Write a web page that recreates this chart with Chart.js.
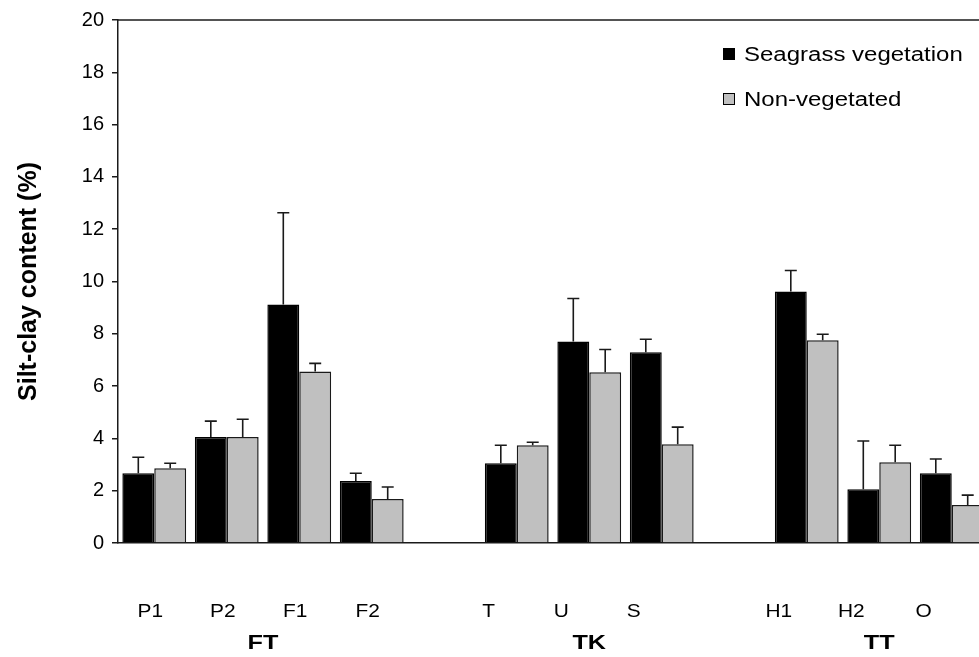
<!DOCTYPE html>
<html>
<head>
    <title>Silt-clay content</title>
    <script src="https://cdn.jsdelivr.net/npm/chart.js"></script>
    <style>
        body { margin: 0; overflow: hidden; background: #fff; }
        #siltChart { position: absolute; left: 0; top: 0; }
    </style>
</head>
<body>
    <canvas id="siltChart" width="988" height="657"></canvas>

    <script>
        // sites (empty strings are the gaps between regions)
        const sites = ['P1', 'P2', 'F1', 'F2', '', 'T', 'U', 'S', '', 'H1', 'H2', 'O'];
        const siteRegion = [0, 0, 0, 0, null, 1, 1, 1, null, 2, 2, 2];
        const regions = ['FT', 'TK', 'TT'];
        const regionCenters = [[1, 2], [6, 6], [10, 10]]; // site index pairs to centre region label on

        const seagrass = [2.67, 4.05, 9.12, 2.37, null, 3.05, 7.71, 7.29, null, 9.62, 2.06, 2.67];
        const seagrassErr = [0.61, 0.61, 3.51, 0.30, null, 0.69, 1.64, 0.50, null, 0.80, 1.84, 0.54];
        const bare = [2.86, 4.05, 6.56, 1.68, null, 3.74, 6.53, 3.78, null, 7.75, 3.09, 1.45];
        const bareErr = [0.19, 0.68, 0.31, 0.46, null, 0.11, 0.87, 0.65, null, 0.23, 0.65, 0.38];

        const yTicks = [0, 2, 4, 6, 8, 10, 12, 14, 16, 18, 20];

        const FONT = '"Liberation Sans", Arial, sans-serif';
        const STRETCH = 1.2; // text in the source looks a bit widened
        const labelShift = [-4, -28, -28]; // site names sit left of their bars in the source

        // upward error bars
        const errorBars = {
            id: 'errorBars',
            afterDatasetsDraw(chart) {
                const ctx = chart.ctx;
                const y = chart.scales.y;
                ctx.save();
                ctx.strokeStyle = '#1a1a1a';
                ctx.lineWidth = 1.6;
                chart.data.datasets.forEach((ds, i) => {
                    const meta = chart.getDatasetMeta(i);
                    meta.data.forEach((bar, j) => {
                        const v = ds.data[j];
                        const e = ds.errors[j];
                        if (v == null || e == null) return;
                        const top = y.getPixelForValue(v + e);
                        ctx.beginPath();
                        ctx.moveTo(bar.x, bar.y);
                        ctx.lineTo(bar.x, top);
                        ctx.moveTo(bar.x - 6, top);
                        ctx.lineTo(bar.x + 6, top);
                        ctx.stroke();
                    });
                });
                ctx.restore();
            }
        };

        // top frame line, legend box, site names and region labels
        const extras = {
            id: 'extras',
            afterDraw(chart) {
                const ctx = chart.ctx;
                const area = chart.chartArea;
                const x = chart.scales.x;
                ctx.save();
                ctx.strokeStyle = '#1a1a1a';
                ctx.lineWidth = 1.5;
                ctx.beginPath();
                ctx.moveTo(area.left, area.top);
                ctx.lineTo(area.right, area.top);
                ctx.stroke();

                // legend
                const items = [
                    { text: 'Seagrass vegetation', fill: '#000000', y: 54 },
                    { text: 'Non-vegetated', fill: '#c0c0c0', y: 99 }
                ];
                ctx.lineWidth = 1;
                items.forEach(it => {
                    ctx.fillStyle = it.fill;
                    ctx.fillRect(723, it.y - 6, 12, 12);
                    ctx.strokeStyle = '#000';
                    ctx.strokeRect(723.5, it.y - 5.5, 11, 11);
                    ctx.save();
                    ctx.translate(744, it.y);
                    ctx.scale(STRETCH, 1);
                    ctx.fillStyle = '#000';
                    ctx.font = '20px ' + FONT;
                    ctx.textBaseline = 'middle';
                    ctx.fillText(it.text, 0, 1);
                    ctx.restore();
                });

                // site names, taken from the category scale
                sites.forEach((s, i) => {
                    const label = x.getLabelForValue(i);
                    if (!label) return;
                    const cx = x.getPixelForValue(i) + labelShift[siteRegion[i]];
                    ctx.save();
                    ctx.translate(cx, 612);
                    ctx.scale(1.1, 1);
                    ctx.fillStyle = '#000';
                    ctx.font = '19px ' + FONT;
                    ctx.textAlign = 'center';
                    ctx.textBaseline = 'middle';
                    ctx.fillText(label, 0, 0);
                    ctx.restore();
                });

                // region labels under the site names
                regions.forEach((r, k) => {
                    const [a, b] = regionCenters[k];
                    const cx = (x.getPixelForValue(a) + x.getPixelForValue(b)) / 2;
                    ctx.save();
                    ctx.translate(cx, 643);
                    ctx.scale(STRETCH, 1);
                    ctx.fillStyle = '#000';
                    ctx.font = 'bold 21px ' + FONT;
                    ctx.textAlign = 'center';
                    ctx.textBaseline = 'middle';
                    ctx.fillText(r, 0, 0);
                    ctx.restore();
                });
                ctx.restore();
            }
        };

        const ctx = document.getElementById('siltChart').getContext('2d');
        const chart = new Chart(ctx, {
            type: 'bar',
            data: {
                labels: sites,
                datasets: [{
                    label: 'Seagrass vegetation',
                    data: seagrass,
                    errors: seagrassErr,
                    backgroundColor: '#000000',
                    borderColor: '#000000',
                    borderWidth: 1.5,
                    categoryPercentage: 0.88,
                    barPercentage: 1.0
                }, {
                    label: 'Non-vegetated',
                    data: bare,
                    errors: bareErr,
                    backgroundColor: '#c0c0c0',
                    borderColor: '#1a1a1a',
                    borderWidth: 1.5,
                    categoryPercentage: 0.88,
                    barPercentage: 1.0
                }]
            },
            options: {
                responsive: false,
                animation: false,
                layout: { padding: { top: 19, right: 0, bottom: 0, left: 0 } },
                plugins: {
                    legend: { display: false },
                    tooltip: { enabled: false }
                },
                scales: {
                    x: {
                        grid: { display: true, drawOnChartArea: false, drawTicks: false },
                        border: { color: '#1a1a1a', width: 1.5 },
                        ticks: { display: false },
                        afterFit(scale) { scale.height = 114; }
                    },
                    y: {
                        min: 0,
                        max: 20,
                        afterBuildTicks(scale) { scale.ticks = yTicks.map(v => ({ value: v })); },
                        grid: { drawOnChartArea: false, drawTicks: true, tickLength: 6, color: '#1a1a1a', lineWidth: 1.5 },
                        border: { color: '#1a1a1a', width: 1.5 },
                        ticks: {
                            color: '#000',
                            font: { family: FONT, size: 20 },
                            padding: 8
                        },
                        title: {
                            display: true,
                            text: 'Silt-clay content (%)',
                            color: '#000',
                            font: { family: FONT, size: 25, weight: 'bold' },
                            padding: { top: 14, bottom: 0 }
                        },
                        afterFit(scale) { scale.width = 118; }
                    }
                }
            },
            plugins: [errorBars, extras]
        });
    </script>
</body>
</html>
